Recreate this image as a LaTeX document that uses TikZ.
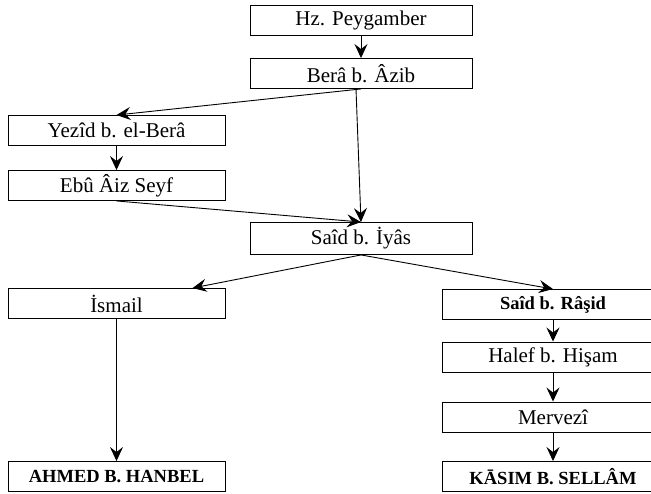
\documentclass[tikz,border=0pt]{standalone}
\usepackage{fontspec}
\setmainfont{Liberation Serif}
\usepackage{tikz}
\usetikzlibrary{shapes,arrows,arrows.meta}
\newcommand{\boxfont}{\fontsize{21}{24}\selectfont}
\newcommand{\imamfont}{\fontsize{18.5}{22}\selectfont\bfseries}
\tikzset{
	narrator/.style = {draw, line width=0.9pt, rectangle, inner sep=0pt,
		minimum height = 30pt, font=\boxfont},
	leftbox/.style  = {narrator, minimum width = 217pt},
	midbox/.style   = {narrator, minimum width = 222pt},
	rightbox/.style = {narrator, minimum width = 222pt},
	imam/.style     = {font=\imamfont}
}

\begin{document}
\begin{tikzpicture}[x=1pt, y=-1pt, line width=0.9pt,
	>={Stealth[length=14pt, width=13pt, inset=5pt]}]
	\useasboundingbox (0,0) rectangle (651,494);
	\draw
	node at (361,20)[midbox] (peyg) {Hz. Peygamber}
	node at (361,73.5)[midbox] (bera) {Berâ b. Âzib}
	node at (116.5,130.5)[leftbox] (yezid) {Yezîd b. el-Berâ}
	node at (116.5,185.5)[leftbox] (ebu) {Ebû Âiz Seyf}
	node at (361,238.5)[midbox, minimum height=32pt] (iyas) {Saîd b. İyâs};
	
	% left branch
	\draw
	node at (116.5,303.5)[leftbox] (ismail) {İsmail}
	node at (116.5,476.5)[leftbox, imam] (ahmed) {AHMED B. HANBEL};
	
	% right branch
	\draw
	node at (553,304.5)[rightbox, imam] (rasid) {Saîd b. Râşid}
	node at (553,357)[rightbox] (halef) {Halef b. Hişam}
	node at (553,417)[rightbox] (mervezi) {Mervezî}
	node at (553,476.5)[rightbox, imam] (kasim) {KĀSIM B. SELLÂM};
	
	\draw[->](peyg) -- (bera);
	\draw[->](bera.south) -- (yezid.north);
	\draw[->]([xshift=-5pt]bera.south) -- (iyas.north);
	\draw[->](yezid) -- (ebu);
	\draw[->](ebu.south) -- (iyas.north);
	\draw[->](iyas.south) -- ([xshift=76pt]ismail.north);
	\draw[->](iyas.south) -- (rasid.north);
	\draw[->](ismail) -- (ahmed);
	\draw[->](rasid) -- (halef);
	\draw[->](halef) -- (mervezi);
	\draw[->](mervezi) -- (kasim);
\end{tikzpicture}
\end{document}
